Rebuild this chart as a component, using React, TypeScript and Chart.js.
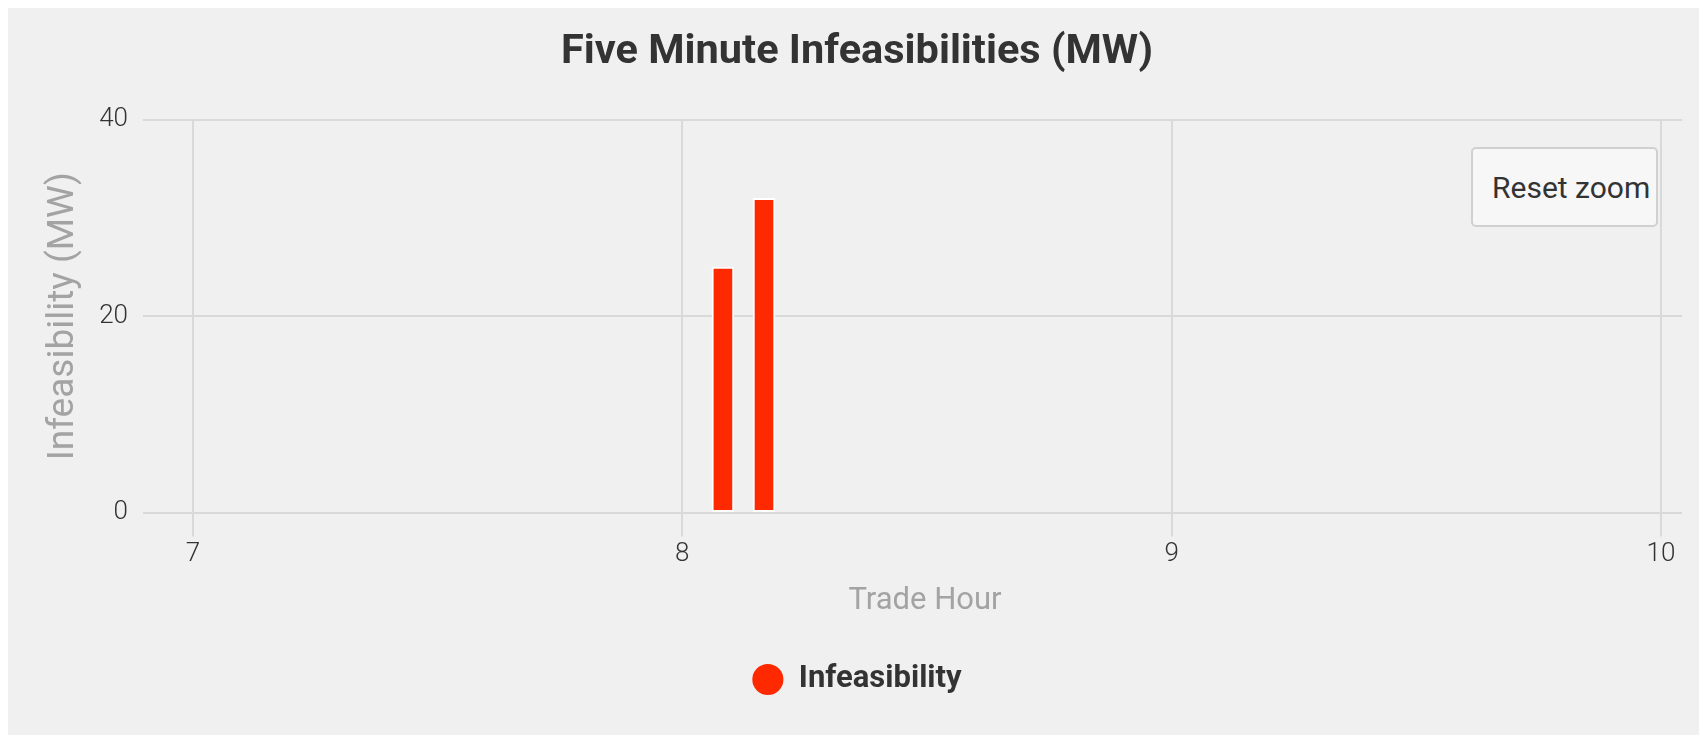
import React, { useEffect, useRef } from "react";
import { Chart, registerables } from "chart.js";

Chart.register(...registerables);

const TITLE = "Five Minute Infeasibilities (MW)";
const SERIES_NAME = "Infeasibility";
const X_TITLE = "Trade Hour";
const Y_TITLE = "Infeasibility (MW)";
const TRADE_HOURS = [8.083, 8.167];
const INFEASIBILITY = [25, 32];
const X_TICKS = [7, 8, 9, 10];
const Y_TICKS = [0, 20, 40];

const RED = "#ff2900";
const GRID = "#d9d9d9";
const TICK_FONT = "Roboto, sans-serif";

export default function App() {
  const ref = useRef<HTMLCanvasElement | null>(null);

  useEffect(() => {
    if (!ref.current) return;
    const chart = new Chart(ref.current, {
      type: "bar",
      data: {
        datasets: [
          {
            label: SERIES_NAME,
            data: TRADE_HOURS.map((h, i) => ({ x: h, y: INFEASIBILITY[i] })),
            backgroundColor: RED,
            borderColor: "#ffffff",
            borderWidth: 2,
            borderSkipped: false,
            barThickness: 22,
          },
        ],
      },
      options: {
        animation: false,
        responsive: true,
        maintainAspectRatio: false,
        layout: { padding: { top: 0, right: 17, bottom: 30, left: 24 } },
        plugins: {
          title: {
            display: true,
            text: TITLE,
            color: "#333333",
            font: { family: "Roboto", size: 41.5, weight: "bold" },
            padding: { top: 20, bottom: 42 },
          },
          legend: {
            position: "bottom",
            labels: {
              usePointStyle: true,
              pointStyle: "circle",
              boxWidth: 31,
              boxHeight: 22,
              padding: 10,
              color: "#333333",
              font: { family: "Roboto", size: 31, weight: "bold" },
              generateLabels: (c: any) => {
                const items = Chart.defaults.plugins.legend.labels.generateLabels(c);
                return items.map((it: any) => ({ ...it, lineWidth: 0, strokeStyle: RED, fillStyle: RED }));
              },
            },
          },
          tooltip: { enabled: false },
        },
        scales: {
          x: {
            type: "linear",
            min: 6.949,
            max: 10.043,
            offset: false,
            afterBuildTicks: (scale: any) => {
              scale.ticks = X_TICKS.map((v) => ({ value: v }));
            },
            grid: {
              color: GRID,
              lineWidth: 2,
              offset: false,
              drawTicks: true,
              tickLength: 24,
              tickColor: GRID,
            },
            border: { display: false },
            ticks: {
              color: "#333333",
              padding: 2,
              font: { family: TICK_FONT, size: 26, weight: "300" },
              maxRotation: 0,
            },
            title: {
              display: true,
              text: X_TITLE,
              color: "#a3a3a3",
              font: { family: "Roboto", size: 31 },
              padding: { top: 11, bottom: 34 },
            },
          },
          y: {
            type: "linear",
            min: 0,
            max: 40,
            afterBuildTicks: (scale: any) => {
              scale.ticks = Y_TICKS.map((v) => ({ value: v }));
            },
            afterFit: (scale: any) => {
              scale.width = 136;
            },
            grid: {
              color: GRID,
              lineWidth: 2,
              drawTicks: true,
              tickLength: 25,
              tickColor: GRID,
            },
            border: { display: false },
            ticks: {
              color: "#333333",
              padding: 15,
              font: { family: TICK_FONT, size: 26, weight: "300" },
            },
            title: {
              display: true,
              text: Y_TITLE,
              color: "#a3a3a3",
              font: { family: "Roboto", size: 37 },
              padding: { top: 10, bottom: 0 },
            },
          },
        },
      } as any,
    });
    return () => chart.destroy();
  }, []);

  return (
    <div style={{ position: "relative", height: 727, background: "#f0f0f0" }}>
      <canvas ref={ref} />
      <button
        style={{
          position: "absolute",
          left: 1463,
          top: 139,
          width: 187,
          height: 80,
          boxSizing: "border-box",
          border: "2px solid #d0d0d0",
          borderRadius: 5,
          background: "#f7f7f7",
          color: "#333333",
          fontFamily: "Roboto",
          fontSize: 30,
          padding: "0 0 0 19px",
          textAlign: "left",
          whiteSpace: "nowrap",
          overflow: "hidden",
        }}
      >
        Reset zoom
      </button>
    </div>
  );
}
